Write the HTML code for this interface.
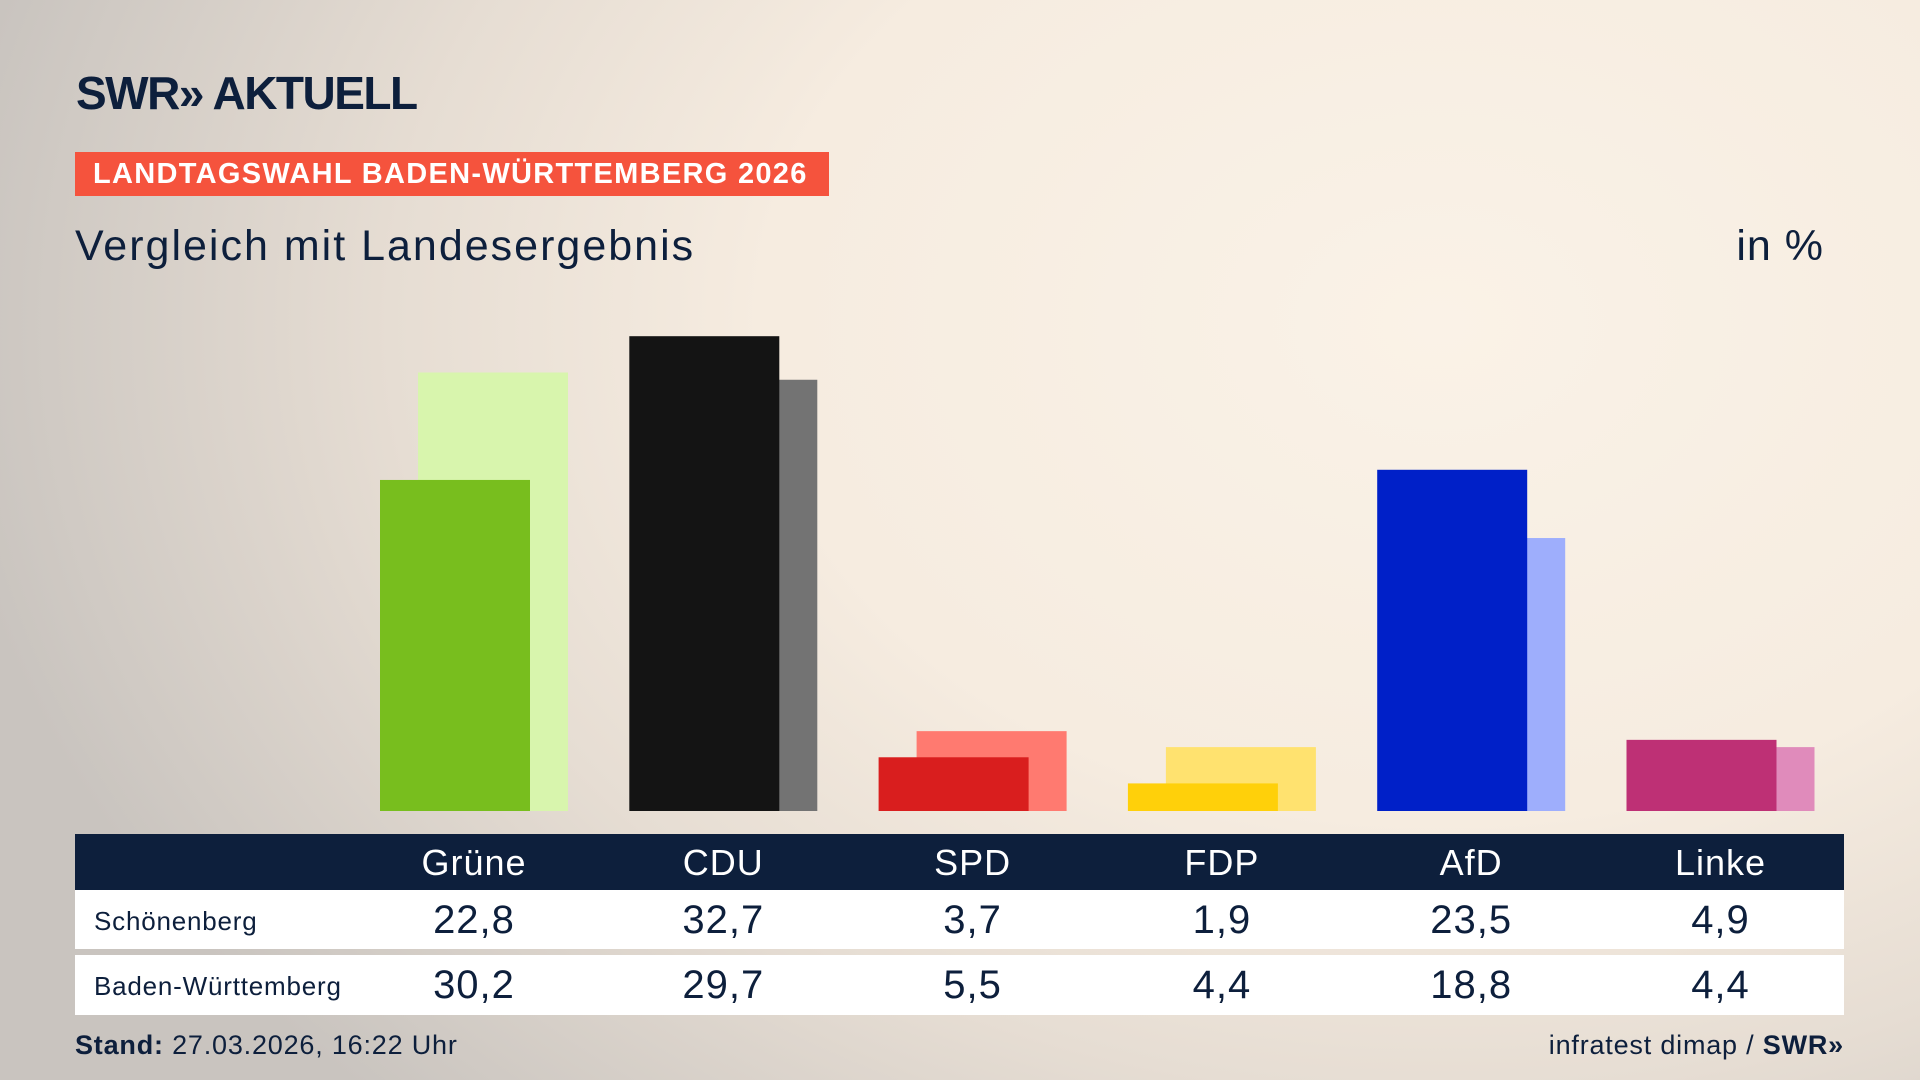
<!DOCTYPE html>
<html><head><meta charset="utf-8">
<style>
html,body{margin:0;padding:0;}
body{width:1920px;height:1080px;overflow:hidden;position:relative;font-family:"Liberation Sans","DejaVu Sans",sans-serif;
background:radial-gradient(ellipse 1500px 1100px at 75% 30%,#faf2e7 0%,#f6ece0 45%,#e6ddd3 70%,#c9c4bf 100%);color:#0d1f3c;}
.abs{position:absolute;}
.logo{left:76px;top:66px;font-size:46px;font-weight:bold;letter-spacing:-1.5px;color:#0d1f3c;}
.banner{left:75px;top:152px;width:754px;height:44px;background:#f5533d;color:#fff;font-weight:bold;font-size:29px;line-height:44px;padding-left:18px;box-sizing:border-box;letter-spacing:1.3px;}
.sub{left:75px;top:222px;font-size:43px;letter-spacing:2px;}
.unit{right:96px;top:222px;font-size:43px;letter-spacing:1px;}
.thead{left:75px;top:834px;width:1769px;height:56px;background:#0d1f3c;}
.row{left:75px;width:1769px;background:#fff;}
.cell{position:absolute;width:200px;text-align:center;}
.foot{font-size:27px;top:1030px;letter-spacing:0.8px;}
</style></head><body>
<div class="abs logo">SWR» AKTUELL</div>
<div class="abs banner">LANDTAGSWAHL BADEN-WÜRTTEMBERG 2026</div>
<div class="abs sub">Vergleich mit Landesergebnis</div>
<div class="abs unit">in %</div>
<svg class="abs" id="chart" style="left:0;top:0" width="1920" height="1080"></svg>
<div class="abs thead" id="thead"></div>
<div class="abs row" id="row1" style="top:890px;height:59px"></div>
<div class="abs row" id="row2" style="top:955px;height:60px"></div>
<div class="abs foot" style="left:75px"><b>Stand:</b> 27.03.2026, 16:22 Uhr</div>
<div class="abs foot" style="right:76px">infratest dimap / <b>SWR»</b></div>
<script>
const parties=["Grüne","CDU","SPD","FDP","AfD","Linke"];
const district=[22.8,32.7,3.7,1.9,23.5,4.9];
const state=[30.2,29.7,5.5,4.4,18.8,4.4];
const districtColors=["#78be1e","#141414","#d91e1e","#ffd00a","#0020c8","#be3075"];
const stateColors=["#d8f5ad","#737373","#ff7a70","#ffe26f","#9eaefc","#e08bbb"];
const base=811, unit=14.52, x0=380, step=249.3, bw=150, off=38;
const y=v=>base-v*unit, x=i=>x0+i*step;
const svg=document.getElementById('chart');
const NS="http://www.w3.org/2000/svg";
function rect(xx,v,c,name){const r=document.createElementNS(NS,'rect');
r.setAttribute('x',xx);r.setAttribute('y',y(v));r.setAttribute('width',bw);r.setAttribute('height',v*unit);r.setAttribute('fill',c);


svg.appendChild(r);}
parties.forEach((p,i)=>{rect(x(i)+off,state[i],stateColors[i],'bar-state-'+i);rect(x(i),district[i],districtColors[i],'bar-district-'+i);});
function cells(id,arr,top,size,color,fmt){const el=document.getElementById(id);
arr.forEach((v,i)=>{const d=document.createElement('div');d.className='cell';
d.style.left=(474-75+i*step-100)+'px';d.style.top=top+'px';d.style.fontSize=size+'px';d.style.color=color;
d.style.letterSpacing='1px';
d.textContent=fmt?String(v).replace('.',','):v;


el.appendChild(d);});}
cells('thead',parties,8,36,'#fff',false);
cells('row1',district,8,40,'#0d1f3c',true);
cells('row2',state,8,40,'#0d1f3c',true);
[['row1','Schönenberg'],['row2','Baden-Württemberg']].forEach(([id,t])=>{const d=document.createElement('div');
d.style.cssText='position:absolute;left:19px;top:16px;font-size:26px;letter-spacing:0.8px;';d.textContent=t;


document.getElementById(id).appendChild(d);});
</script>
</body></html>
